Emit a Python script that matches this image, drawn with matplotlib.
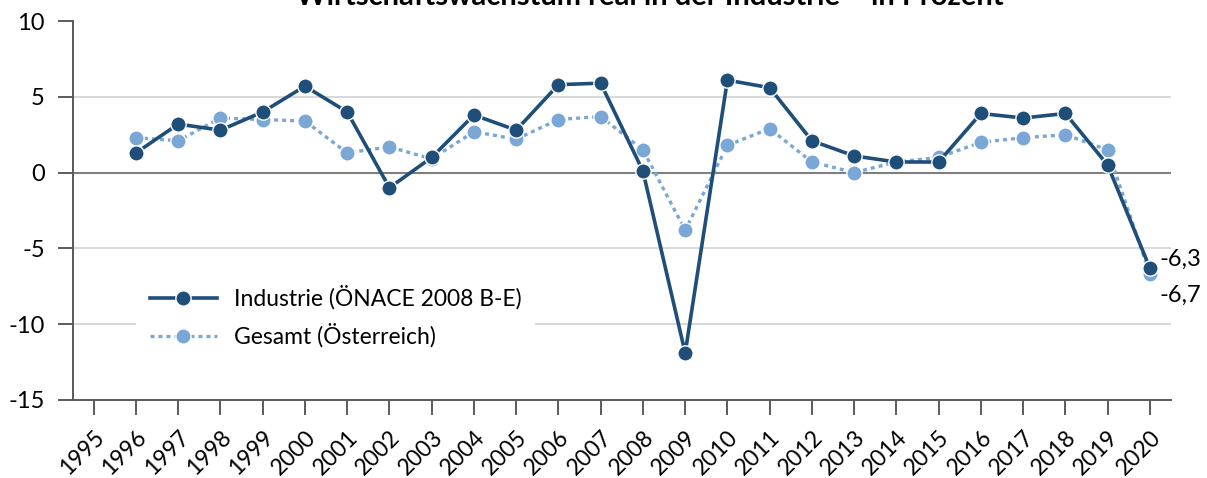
import matplotlib
matplotlib.use("Agg")
import matplotlib.pyplot as plt
from matplotlib.lines import Line2D

years = list(range(1995, 2021))
ind_years = list(range(1996, 2021))
industrie = [1.3, 3.2, 2.8, 4.0, 5.7, 4.0, -1.0, 1.0, 3.8, 2.8, 5.8, 5.9, 0.1,
             -11.9, 6.1, 5.6, 2.1, 1.1, 0.7, 0.7, 3.9, 3.6, 3.9, 0.5, -6.3]
gesamt = [2.3, 2.1, 3.6, 3.5, 3.4, 1.3, 1.7, 0.9, 2.7, 2.2, 3.5, 3.7, 1.5,
          -3.8, 1.8, 2.9, 0.7, 0.0, 0.7, 1.0, 2.0, 2.3, 2.5, 1.5, -6.7]
label_ind = "Industrie (ÖNACE 2008 B-E)"
label_ges = "Gesamt (Österreich)"
title = "Wirtschaftswachstum real in der Industrie – in Prozent"
yticks = [10, 5, 0, -5, -10, -15]

plt.rcParams['font.family'] = ['Lato', 'DejaVu Sans']

dark = "#1F4E79"
light = "#7BA7D7"
FS = 16.5

fig = plt.figure(figsize=(12.07, 4.78), dpi=100)
ax = fig.add_axes([72.6/1207, 1-400/478, (1171-72.6)/1207, (400-21)/478])

for g in [5, -5, -10]:
    ax.axhline(g, color="#D9D9D9", lw=1.5, zorder=0)
ax.axhline(0, color="#7F7F7F", lw=1.5, zorder=1)

ax.plot(ind_years, gesamt, color=light, lw=2.4, ls=(0, (1.2, 1.2)),
        marker='o', ms=11, mfc=light, mec='white', mew=1.0, zorder=3)
ax.plot(ind_years, industrie, color=dark, lw=2.6, ls='-',
        marker='o', ms=11, mfc=dark, mec='white', mew=1.0, zorder=4)

ax.set_xlim(1994.5, 2020.5)
ax.set_ylim(-15, 10)
ax.set_xticks(years)
ax.set_xticklabels([str(y) for y in years], rotation=45, ha='right',
                   rotation_mode='anchor', fontsize=FS)
ax.set_yticks(yticks)
ax.set_yticklabels([str(v) for v in yticks], fontsize=FS + 0.5)
ax.tick_params(axis='both', direction='out', length=11, width=1.2,
               color="#404040", labelcolor="#000000")
ax.tick_params(axis='x', pad=8)
ax.tick_params(axis='y', pad=9)
for s in ['top', 'right']:
    ax.spines[s].set_visible(False)
for s in ['left', 'bottom']:
    ax.spines[s].set_color("#595959")
    ax.spines[s].set_linewidth(1.4)

ax.annotate(f"{industrie[-1]:.1f}".replace('.', ','), xy=(ind_years[-1], industrie[-1]),
            xytext=(7, 6), textcoords='offset points', fontsize=FS + 0.5,
            va='center', ha='left')
ax.annotate(f"{gesamt[-1]:.1f}".replace('.', ','), xy=(ind_years[-1], gesamt[-1]),
            xytext=(7, -15), textcoords='offset points', fontsize=FS + 0.5,
            va='center', ha='left')

handles = [
    Line2D([], [], color=dark, lw=2.6, marker='o', ms=11, mfc=dark, mec='white', mew=1.0),
    Line2D([], [], color=light, lw=2.4, ls=(0, (1.2, 1.2)), marker='o', ms=11,
           mfc=light, mec='white', mew=1.0),
]
leg = ax.legend(handles, [label_ind, label_ges], loc='center left',
                bbox_to_anchor=(0.058, 0.22), fontsize=FS, handlelength=2.9,
                handletextpad=0.75, labelspacing=0.6, frameon=True, borderpad=0.6,
                borderaxespad=0.0, fancybox=False)
leg.get_frame().set_facecolor('white')
leg.get_frame().set_edgecolor('none')
leg.get_frame().set_alpha(1.0)
leg.set_zorder(5)

fig.text(650/1207, 1-5/478, title, ha='center', va='baseline',
         fontsize=21, fontweight='bold')

fig.savefig("out.png", dpi=100)
